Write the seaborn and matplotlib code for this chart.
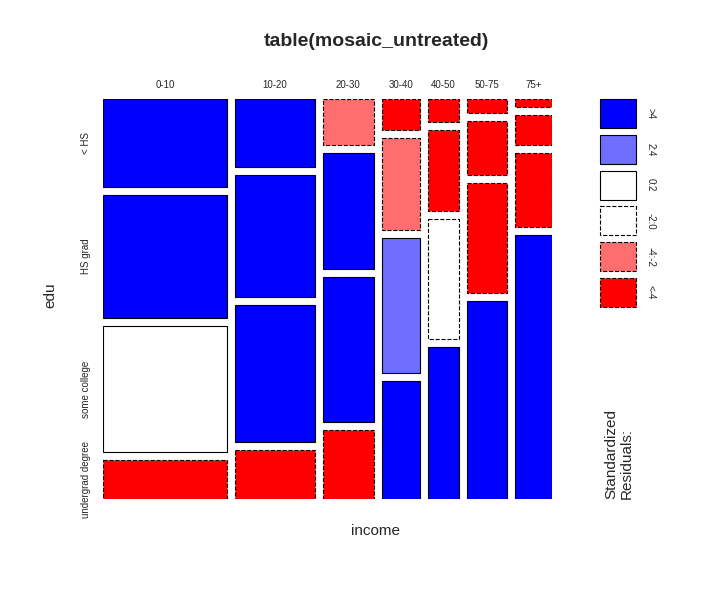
import numpy as np
import matplotlib
matplotlib.use("Agg")
import matplotlib.pyplot as plt
import seaborn as sns
from matplotlib.patches import Rectangle

sns.set_style("white")
plt.rcParams['font.family'] = ['Liberation Sans', 'DejaVu Sans']

income = ["0-10", "10-20", "20-30", "30-40", "40-50", "50-75", "75+"]
edu = ["< HS", "HS grad", "some college", "undergrad degree"]
income_totals = [310, 200, 128, 95, 78, 100, 93]
# share of each edu level inside each income column (percent)
edu_share = np.array([
    [23.4, 18.1, 12.2, 8.2, 6.1, 3.7, 2.1],
    [32.7, 32.4, 30.9, 24.5, 21.5, 14.4, 8.0],
    [33.5, 36.4, 38.6, 35.9, 31.9, 29.3, 19.7],
    [10.4, 13.1, 18.3, 31.4, 40.5, 52.6, 70.2],
])
# residual class: 2 = >4, 1 = 2:4, 0 = 0:2, -1 = -2:0, -2 = -4:-2, -3 = <-4
resid_class = np.array([
    [2, 2, -2, -3, -3, -3, -3],
    [2, 2, 2, -2, -3, -3, -3],
    [0, 2, 2, 1, -1, -3, -3],
    [-3, -3, -3, 2, 2, 2, 2],
])
legend_classes = [2, 1, 0, -1, -2, -3]
legend_labels = [">4", "2:4", "0:2", "-2:0", "-4:-2", "<-4"]
colors = {2: "#0000FF", 1: "#6E6EFF", 0: "#FFFFFF", -1: "#FFFFFF", -2: "#FF6E6E", -3: "#FF0000"}

fig = plt.figure(figsize=(7.16, 5.99), dpi=100)
W, H = 716, 599
ax = fig.add_axes([103 / W, 1 - 499 / H, 449 / W, 400 / H])
gap = 8
tot_w = 449 - gap * (len(income) - 1)
tot_h = 400 - gap * (len(edu) - 1)
widths = np.array(income_totals) / sum(income_totals) * tot_w

x = 0
for j, lab in enumerate(income):
    y = 0
    hs = edu_share[:, j] / edu_share[:, j].sum() * tot_h
    for i in range(len(edu)):
        c = resid_class[i, j]
        ax.bar(x, hs[i], width=widths[j], bottom=y, align="edge", color=colors[c],
               edgecolor="black", linewidth=0.8, linestyle="--" if c < 0 else "-")
        if j == 0:
            fig.text(86 / W, 1 - (99 + y + hs[i] / 2) / H, edu[i], rotation=90,
                     ha="center", va="center", fontsize=7)
        y += hs[i] + gap
    fig.text((103 + x + widths[j] / 2) / W, 1 - 85 / H, lab, ha="center", va="center", fontsize=7)
    x += widths[j] + gap

ax.set_xlim(0, 449)
ax.set_ylim(400, 0)
ax.axis("off")

# legend of residual classes
lax = fig.add_axes([0, 0, 1, 1])
lax.set_xlim(0, W)
lax.set_ylim(H, 0)
lax.axis("off")
for k, (c, lab) in enumerate(zip(legend_classes, legend_labels)):
    y0 = 99 + k * 35.8
    lax.add_patch(Rectangle((600, y0), 36, 29, facecolor=colors[c], edgecolor="black",
                            linewidth=0.8, linestyle="--" if c < 0 else "-"))
    lax.text(651, y0 + 14.5, lab, rotation=-90, ha="center", va="center", fontsize=7)
lax.text(619, 499, "Standardized\nResiduals:", rotation=90, ha="center", va="bottom",
         fontsize=11, multialignment="left")

fig.text(376 / W, 1 - 42 / H, "table(mosaic_untreated)", ha="center", va="center",
         fontsize=14, fontweight="bold")
fig.text(376 / W, 1 - 531 / H, "income", ha="center", va="center", fontsize=11)
fig.text(50 / W, 1 - 295 / H, "edu", ha="center", va="center", fontsize=11, rotation=90)

fig.savefig("out.png", dpi=100)
